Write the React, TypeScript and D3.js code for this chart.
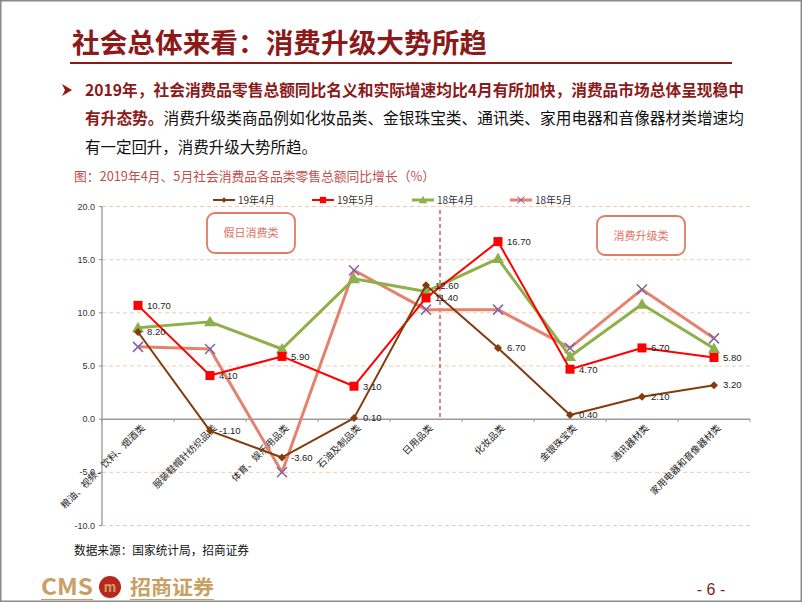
import React from "react";
import * as d3 from "d3";

const categories = [
  "粮油、视频、饮料、烟酒类",
  "服装鞋帽针纺织品类",
  "体育、娱乐用品类",
  "石油及制品类",
  "日用品类",
  "化妆品类",
  "金银珠宝类",
  "通讯器材类",
  "家用电器和音像器材类",
];
const apr19 = [8.2, -1.1, -3.6, 0.1, 12.6, 6.7, 0.4, 2.1, 3.2];
const may19 = [10.7, 4.1, 5.9, 3.1, 11.4, 16.7, 4.7, 6.7, 5.8];
const apr18 = [8.6, 9.15, 6.6, 13.2, 12.0, 15.1, 5.9, 10.8, 6.65];
const may18 = [6.8, 6.6, -5.0, 14.0, 10.3, 10.3, 6.7, 12.2, 7.6];
const yTicks = [-10, -5, 0, 5, 10, 15, 20];
const seriesNames = ["19年4月", "19年5月", "18年4月", "18年5月"];

const SANS = "'Noto Sans CJK SC', 'Noto Sans', sans-serif";
const NUM = "'Liberation Sans', Arial, sans-serif";
const DARKRED = "#8B1A1A";
const GOLD = "#C9A063";

const x = d3.scaleBand<string>().domain(categories).range([102, 750]).padding(0);
const cx = (i: number) => (x(categories[i]) as number) + x.bandwidth() / 2;
const y = d3.scaleLinear().domain([-10, 20]).range([525.5, 206.5]);

type Marker = "diamond" | "square" | "triangle" | "x";

const series = [
  { name: seriesNames[3], values: may18, color: "#E4826E", width: 3, marker: "x" as Marker, mcolor: "#8064A2", labels: false },
  { name: seriesNames[2], values: apr18, color: "#8DB04A", width: 3, marker: "triangle" as Marker, mcolor: "#8DB04A", labels: false },
  { name: seriesNames[1], values: may19, color: "#FF0000", width: 2, marker: "square" as Marker, mcolor: "#FF0000", labels: true },
  { name: seriesNames[0], values: apr19, color: "#843C0C", width: 2, marker: "diamond" as Marker, mcolor: "#843C0C", labels: true },
];

function MarkerShape({ type, px, py, color }: { type: Marker; px: number; py: number; color: string }) {
  if (type === "square") return <rect x={px - 4.5} y={py - 4.5} width={9} height={9} fill={color} />;
  if (type === "diamond")
    return <path d={`M${px},${py - 4}L${px + 4},${py}L${px},${py + 4}L${px - 4},${py}Z`} fill={color} />;
  if (type === "triangle")
    return <path d={`M${px},${py - 6}L${px + 6},${py + 4.5}L${px - 6},${py + 4.5}Z`} fill={color} />;
  return (
    <path d={`M${px - 5},${py - 5}L${px + 5},${py + 5}M${px - 5},${py + 5}L${px + 5},${py - 5}`} stroke={color} strokeWidth={1.5} />
  );
}

export default function App() {
  const line = d3
    .line<number>()
    .x((_, i) => cx(i))
    .y((d) => y(d));

  const legendX = [213, 312, 412, 510];
  const legendOrder = [3, 2, 1, 0];

  return (
    <svg width={802} height={602} style={{ position: "fixed", left: 0, top: 0, background: "#fff" }}>
      <rect x={0} y={0} width={802} height={602} fill="#fff" />
      <rect x={0.75} y={0.75} width={800.5} height={600.5} fill="none" stroke="#8a8a8a" strokeWidth={1.5} />

      {/* Title */}
      <text x={72} y={53} fontFamily={SANS} fontWeight={700} fontSize={27} fill={DARKRED} textLength={415} lengthAdjust="spacingAndGlyphs">
        社会总体来看：消费升级大势所趋
      </text>
      <line x1={70} x2={732} y1={63} y2={63} stroke={DARKRED} strokeWidth={2} />

      {/* Paragraph */}
      <path d="M62,84 L72,90 L62,96 L65,90 Z" fill={DARKRED} />
      <text x={85} y={96} fontFamily={SANS} fontWeight={700} fontSize={16} fill={DARKRED} textLength={659} lengthAdjust="spacingAndGlyphs">
        2019年，社会消费品零售总额同比名义和实际增速均比4月有所加快，消费品市场总体呈现稳中
      </text>
      <text x={85} y={124} fontFamily={SANS} fontSize={16} textLength={659} lengthAdjust="spacingAndGlyphs">
        <tspan fontWeight={700} fill={DARKRED}>有升态势。</tspan>
        <tspan fill="#111">消费升级类商品例如化妆品类、金银珠宝类、通讯类、家用电器和音像器材类增速均</tspan>
      </text>
      <text x={85} y={153} fontFamily={SANS} fontSize={16} fill="#111" textLength={232} lengthAdjust="spacingAndGlyphs">
        有一定回升，消费升级大势所趋。
      </text>

      {/* Caption */}
      <text x={74} y={181} fontFamily={SANS} fontSize={13} fill="#C0504D" textLength={361} lengthAdjust="spacingAndGlyphs">
        图：2019年4月、5月社会消费品各品类零售总额同比增长（%）
      </text>

      {/* Gridlines */}
      {yTicks
        .filter((t) => t !== 0)
        .map((t) => (
          <line key={t} x1={102} x2={750} y1={y(t)} y2={y(t)} stroke="#F8C9A8" strokeWidth={1} strokeDasharray="4,3" />
        ))}

      {/* Y axis */}
      <line x1={102} x2={102} y1={y(20)} y2={y(-10)} stroke="#8c8c8c" strokeWidth={1.2} />
      {yTicks.map((t) => (
        <g key={t}>
          <line x1={99} x2={102} y1={y(t)} y2={y(t)} stroke="#8c8c8c" />
          <text x={95} y={y(t)} dy="0.35em" textAnchor="end" fontFamily={NUM} fontSize={9} fill="#333">
            {t.toFixed(1)}
          </text>
        </g>
      ))}

      {/* X axis at 0 */}
      <line x1={102} x2={750} y1={y(0)} y2={y(0)} stroke="#9a9a9a" strokeWidth={1.5} />
      {d3.range(categories.length + 1).map((k) => (
        <line key={k} x1={102 + k * x.bandwidth()} x2={102 + k * x.bandwidth()} y1={y(0)} y2={y(0) + 3} stroke="#9a9a9a" />
      ))}
      {categories.map((c, i) => (
        <text
          key={c}
          transform={`translate(${cx(i) + 5},${y(0) + 7}) rotate(-45)`}
          textAnchor="end"
          dy="0.35em"
          fontFamily={SANS}
          fontSize={9.5}
          fill="#222"
        >
          {c}
        </text>
      ))}

      {/* Divider */}
      <line x1={440} x2={440} y1={210} y2={y(0)} stroke="#B5403A" strokeWidth={1.2} strokeDasharray="4,3" />

      {/* Annotation boxes */}
      <rect x={207} y={213} width={88} height={40} rx={8} fill="#fff" stroke="#E07B65" strokeWidth={1.8} />
      <text x={251} y={233} dy="0.35em" textAnchor="middle" fontFamily={SANS} fontSize={11} fill="#E07060">
        假日消费类
      </text>
      <rect x={597} y={216} width={88} height={39} rx={8} fill="#fff" stroke="#E07B65" strokeWidth={1.8} />
      <text x={641} y={236} dy="0.35em" textAnchor="middle" fontFamily={SANS} fontSize={11} fill="#E07060">
        消费升级类
      </text>

      {/* Series */}
      {series.map((s) => (
        <g key={s.name}>
          <path d={line(s.values) || ""} fill="none" stroke={s.color} strokeWidth={s.width} strokeLinejoin="round" />
          {s.values.map((v, i) => (
            <MarkerShape key={i} type={s.marker} px={cx(i)} py={y(v)} color={s.mcolor} />
          ))}
        </g>
      ))}
      {series
        .filter((s) => s.labels)
        .map((s) =>
          s.values.map((v, i) => (
            <text key={s.name + i} x={cx(i) + 9} y={y(v)} dy="0.35em" fontFamily={NUM} fontSize={9.5} fill="#222">
              {v.toFixed(2)}
            </text>
          ))
        )}

      {/* Legend */}
      {legendOrder.map((si, k) => {
        const s = series[si];
        const lx = legendX[k];
        const ly = 200;
        return (
          <g key={s.name}>
            <line x1={lx} x2={lx + 22} y1={ly} y2={ly} stroke={s.color} strokeWidth={s.width} />
            <g transform={`translate(${lx + 11},${ly}) scale(0.7) translate(${-(lx + 11)},${-ly})`}>
              <MarkerShape type={s.marker} px={lx + 11} py={ly} color={s.mcolor} />
            </g>
            <text x={lx + 25} y={ly} dy="0.35em" fontFamily={SANS} fontSize={10} fill="#333">
              {s.name}
            </text>
          </g>
        );
      })}

      {/* Source */}
      <text x={74} y={555} fontFamily={SANS} fontSize={12} fill="#111" textLength={175} lengthAdjust="spacingAndGlyphs">
        数据来源：国家统计局，招商证券
      </text>

      {/* Logo */}
      <text x={41} y={595} fontFamily={SANS} fontWeight={700} fontSize={23} fill={GOLD} textLength={52} lengthAdjust="spacingAndGlyphs">
        CMS
      </text>
      <circle cx={110} cy={587} r={11} fill="#B8261E" />
      <text x={110} y={587} dy="0.35em" textAnchor="middle" fontFamily={SANS} fontWeight={700} fontSize={13} fill={GOLD}>
        m
      </text>
      <text x={130} y={595} fontFamily={SANS} fontWeight={700} fontSize={20} fill={GOLD} textLength={84} lengthAdjust="spacingAndGlyphs">
        招商证券
      </text>
      <line x1={41} x2={93} y1={599.5} y2={599.5} stroke={GOLD} strokeWidth={1} />
      <line x1={130} x2={214} y1={599.5} y2={599.5} stroke={GOLD} strokeWidth={1} />

      {/* Page number */}
      <text x={711} y={589} dy="0.35em" textAnchor="middle" fontFamily={NUM} fontSize={16} fill={DARKRED}>
        - 6 -
      </text>
    </svg>
  );
}
